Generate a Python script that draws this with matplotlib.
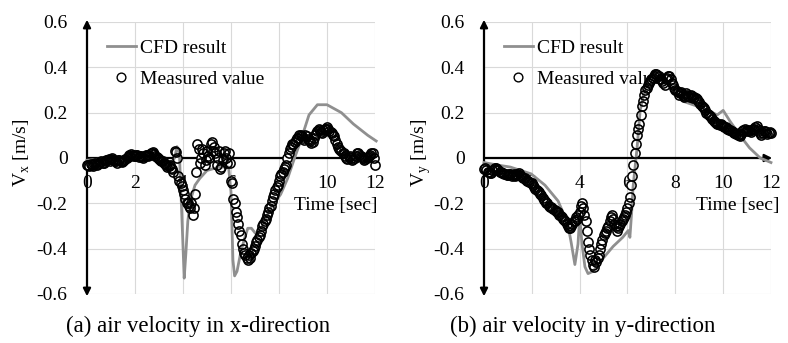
import matplotlib
matplotlib.use("Agg")
import matplotlib.pyplot as plt
import numpy as np

plt.rcParams['font.family'] = ['Liberation Serif', 'DejaVu Serif']
plt.rcParams['mathtext.fontset'] = 'custom'
plt.rcParams['mathtext.rm'] = 'Liberation Serif'

# measured values, read every 0.1 s (0 .. 12 s) plus the samples in between
t_meas = np.round(np.arange(0, 12.01, 0.1), 2)
t_meas_mid = np.round(np.arange(0.05, 12.0, 0.1), 2)

vx_meas = [
    -0.03, -0.035, -0.03, -0.025, -0.03, -0.02, -0.015, -0.02, -0.01, -0.005,
    -0.005, -0.01, -0.015, -0.01, -0.015, -0.013, -0.005, 0.005, 0.01, 0.015,
    0.01, 0.012, 0.008, 0.005, 0.01, 0.012, 0.015, 0.02, 0.018, 0.005,
    -0.005, -0.012, -0.02, -0.03, -0.035, -0.045, -0.06, 0.025, -0.08, -0.11,
    -0.14, -0.18, -0.2, -0.22, -0.25, -0.16, 0.06, -0.02, 0.04, -0.03,
    0.03, 0.0, 0.07, 0.05, -0.03, 0.03, -0.04, 0.02, 0.0, 0.02,
    -0.1, -0.18, -0.24, -0.29, -0.34, -0.4, -0.43, -0.45, -0.44, -0.41,
    -0.39, -0.36, -0.34, -0.3, -0.28, -0.25, -0.22, -0.19, -0.16, -0.13,
    -0.1, -0.07, -0.05, -0.03, 0.02, 0.05, 0.06, 0.08, 0.09, 0.1,
    0.09, 0.1, 0.085, 0.075, 0.07, 0.1, 0.12, 0.125, 0.11, 0.13,
    0.135, 0.12, 0.11, 0.095, 0.06, 0.04, 0.03, 0.02, 0.0, 0.005,
    0.0, -0.005, 0.01, 0.02, 0.01, 0.0, -0.005, 0.005, 0.015, 0.02,
    -0.03,
]
vx_meas_mid = [
    -0.032, -0.028, -0.035, -0.022, -0.025, -0.018, -0.022, -0.012, -0.008, -0.012,
    -0.002, -0.012, -0.02, -0.008, -0.018, -0.008, 0.0, 0.012, 0.018, 0.008,
    0.015, 0.005, 0.01, 0.002, 0.014, 0.008, 0.022, 0.025, 0.01, 0.0,
    -0.008, -0.015, -0.025, -0.04, -0.03, -0.05, 0.03, 0.0, -0.1, -0.125,
    -0.16, -0.2, -0.21, -0.2, -0.22, -0.06, 0.04, 0.0, 0.02, -0.01,
    0.01, 0.06, 0.03, 0.02, 0.0, -0.05, -0.01, 0.03, -0.02, -0.02,
    -0.11, -0.2, -0.26, -0.32, -0.38, -0.42, -0.44, -0.43, -0.42, -0.4,
    -0.37, -0.35, -0.32, -0.29, -0.27, -0.24, -0.21, -0.17, -0.14, -0.12,
    -0.08, -0.06, -0.04, 0.0, 0.04, 0.06, 0.07, 0.09, 0.1, 0.095,
    0.08, 0.095, 0.08, 0.065, 0.09, 0.11, 0.13, 0.115, 0.125, 0.13,
    0.13, 0.115, 0.1, 0.08, 0.05, 0.035, 0.02, 0.01, -0.005, 0.01,
    -0.01, 0.0, 0.02, 0.015, 0.005, -0.01, 0.0, 0.01, 0.02, 0.0,
]

vy_meas = [
    -0.05, -0.055, -0.06, -0.065, -0.05, -0.045, -0.055, -0.06, -0.065, -0.07,
    -0.075, -0.07, -0.075, -0.08, -0.07, -0.075, -0.085, -0.09, -0.1, -0.105,
    -0.11, -0.13, -0.14, -0.15, -0.165, -0.185, -0.2, -0.21, -0.215, -0.225,
    -0.235, -0.24, -0.255, -0.27, -0.28, -0.3, -0.31, -0.29, -0.28, -0.27,
    -0.24, -0.2, -0.25, -0.32, -0.4, -0.45, -0.48, -0.46, -0.43, -0.38,
    -0.34, -0.32, -0.3, -0.26, -0.27, -0.3, -0.31, -0.29, -0.27, -0.25,
    -0.22, -0.17, -0.08, 0.02, 0.1, 0.15, 0.23, 0.28, 0.31, 0.33,
    0.35, 0.36, 0.37, 0.36, 0.35, 0.33, 0.35, 0.36, 0.35, 0.32,
    0.3, 0.29, 0.285, 0.28, 0.275, 0.28, 0.27, 0.275, 0.27, 0.26,
    0.245, 0.23, 0.22, 0.2, 0.19, 0.18, 0.165, 0.155, 0.15, 0.15,
    0.14, 0.135, 0.13, 0.125, 0.115, 0.11, 0.1, 0.095, 0.12, 0.13,
    0.125, 0.12, 0.125, 0.13, 0.14, 0.12, 0.1, 0.12, 0.115, 0.11,
    0.11,
]
vy_meas_mid = [
    -0.045, -0.06, -0.065, -0.055, -0.045, -0.05, -0.06, -0.065, -0.07, -0.075,
    -0.07, -0.08, -0.07, -0.075, -0.068, -0.08, -0.09, -0.095, -0.1, -0.11,
    -0.12, -0.135, -0.145, -0.16, -0.175, -0.19, -0.2, -0.215, -0.22, -0.23,
    -0.24, -0.25, -0.26, -0.275, -0.29, -0.31, -0.3, -0.28, -0.26, -0.25,
    -0.21, -0.22, -0.28, -0.37, -0.43, -0.47, -0.45, -0.44, -0.4, -0.36,
    -0.33, -0.31, -0.28, -0.25, -0.29, -0.32, -0.3, -0.28, -0.26, -0.24,
    -0.2, -0.12, -0.03, 0.06, 0.13, 0.19, 0.25, 0.3, 0.32, 0.34,
    0.355, 0.37, 0.365, 0.35, 0.34, 0.32, 0.355, 0.36, 0.33, 0.31,
    0.295, 0.28, 0.29, 0.27, 0.285, 0.275, 0.28, 0.265, 0.265, 0.25,
    0.24, 0.225, 0.21, 0.195, 0.185, 0.17, 0.16, 0.15, 0.145, 0.145,
    0.135, 0.13, 0.125, 0.12, 0.11, 0.105, 0.1, 0.105, 0.125, 0.12,
    0.125, 0.115, 0.13, 0.135, 0.13, 0.11, 0.11, 0.12, 0.105, 0.115,
]

# CFD results
t_cfd_x = [0, 0.5, 1, 1.5, 2, 2.5, 3, 3.3, 3.5, 3.65, 3.75, 3.85, 3.95, 4.05,
           4.12, 4.2, 4.3, 4.5, 4.7, 5.0, 5.5, 5.9, 6.0, 6.08, 6.15, 6.25,
           6.4, 6.55, 6.7, 6.85, 7.0, 7.1, 7.3, 7.66, 8.07, 8.36, 8.6, 8.9,
           9.25, 9.6, 10.0, 10.6, 11.1, 11.7, 12.05]
vx_cfd = [-0.01, -0.005, 0.0, 0.0, 0.005, 0.005, -0.005, -0.015, -0.02, 0.0,
          0.05, 0.02, -0.25, -0.53, -0.42, -0.28, -0.19, -0.12, -0.09, -0.055,
          -0.04, -0.04, -0.15, -0.45, -0.52, -0.5, -0.42, -0.36, -0.31, -0.31,
          -0.33, -0.335, -0.3, -0.22, -0.16, -0.09, -0.015, 0.075, 0.19, 0.235,
          0.235, 0.2, 0.15, 0.1, 0.075]

t_cfd_y = [0, 0.5, 1.1, 1.97, 2.55, 3.1, 3.5, 3.64, 3.8, 3.93, 4.0, 4.1, 4.22,
           4.35, 4.56, 5.0, 5.4, 5.8, 6.03, 6.1, 6.18, 6.23, 6.4, 6.53, 6.8,
           7.07, 7.5, 7.9, 8.33, 8.6, 9.16, 9.75, 10.0, 10.3, 10.7, 11.1,
           11.55, 12.0]
vy_cfd = [-0.02, -0.03, -0.04, -0.07, -0.12, -0.19, -0.29, -0.37, -0.47, -0.38,
          -0.26, -0.38, -0.48, -0.51, -0.5, -0.44, -0.39, -0.35, -0.32, -0.35,
          -0.23, -0.13, 0.045, 0.21, 0.34, 0.37, 0.35, 0.31, 0.25, 0.24,
          0.22, 0.19, 0.21, 0.16, 0.1, 0.045, 0.0, -0.02]

x_ticks = [0, 2, 4, 6, 8, 10, 12]
y_ticks = [-0.6, -0.4, -0.2, 0, 0.2, 0.4, 0.6]
y_ticklabels = ['-0.6', '-0.4', '-0.2', '0', '0.2', '0.4', '0.6']

FS = 14
FS_CAP = 16.5

fig = plt.figure(figsize=(7.88, 3.43), dpi=100)


def draw_panel(ax, t_cfd, v_cfd, v_meas, v_mid, ylabel, caption, cap_x,
               time_x, ylab_x):
    ax.set_xlim(0, 12)
    ax.set_ylim(-0.6, 0.6)
    for s in ax.spines.values():
        s.set_visible(False)
    ax.spines['bottom'].set_position(('data', 0))
    ax.set_xticks(x_ticks)
    ax.set_yticks(y_ticks)
    ax.set_yticklabels(y_ticklabels)
    ax.tick_params(axis='both', length=0, labelsize=FS)
    ax.tick_params(axis='x', pad=12)
    ax.tick_params(axis='y', pad=14)
    ax.grid(True, color='#d9d9d9', lw=0.8)
    ax.set_axisbelow(True)

    # axes drawn as arrows
    ax.annotate('', xy=(0, 0.61), xytext=(0, -0.61),
                arrowprops=dict(arrowstyle='<|-|>', color='black', lw=1.6,
                                mutation_scale=11, shrinkA=0, shrinkB=0),
                zorder=2.7, annotation_clip=False)
    ax.annotate('', xy=(12.05, 0), xytext=(0, 0),
                arrowprops=dict(arrowstyle='-|>', color='black', lw=1.6,
                                mutation_scale=11, shrinkA=0, shrinkB=0),
                zorder=2.7, annotation_clip=False)

    tt = np.concatenate([t_meas, t_meas_mid])
    vv = np.concatenate([v_meas, v_mid])

    ax.plot(t_cfd, v_cfd, color='#8f8f8f', lw=2.0, label='CFD result',
            zorder=3.5, clip_on=False)
    # white fill under the open circles hides what lies behind
    ax.plot(tt, vv, ls='none', marker='o', ms=6.6, mfc='white',
            mec='none', zorder=3, clip_on=False)
    ax.plot(tt, vv, ls='none', marker='o', ms=6.6, mfc='none',
            mec='black', mew=1.15, zorder=4, clip_on=False)
    # legend entry
    ax.plot([], [], ls='none', marker='o', ms=6.3, mfc='none', mec='black',
            mew=1.0, label='Measured value')

    leg = ax.legend(loc='upper left', bbox_to_anchor=(0.068, 0.935),
                    frameon=False, fontsize=FS, handlelength=1.5,
                    handletextpad=0.2, labelspacing=0.68, borderpad=0,
                    borderaxespad=0)
    leg.set_zorder(2.8)

    ax.text(ylab_x, 0.52, ylabel, transform=ax.transAxes, rotation=90,
            ha='center', va='center', fontsize=FS)
    ax.text(time_x, 0.327, 'Time [sec]', transform=ax.transAxes,
            ha='right', va='center', fontsize=FS)
    fig.text(cap_x, 0.048, caption, ha='center', va='center', fontsize=FS_CAP)


ax1 = fig.add_axes([87 / 788, 49 / 343, 288 / 788, 272 / 343])
draw_panel(ax1, t_cfd_x, vx_cfd, vx_meas, vx_meas_mid,
           r'V$_\mathregular{x}$ [m/s]',
           '(a) air velocity in x-direction', 198 / 788, 1.007, -0.225)

ax2 = fig.add_axes([484 / 788, 49 / 343, 287 / 788, 272 / 343])
draw_panel(ax2, t_cfd_y, vy_cfd, vy_meas, vy_meas_mid,
           r'V$_\mathregular{y}$ [m/s]',
           '(b) air velocity in y-direction', 583 / 788, 1.028, -0.22)

fig.savefig('out.png', dpi=100)
